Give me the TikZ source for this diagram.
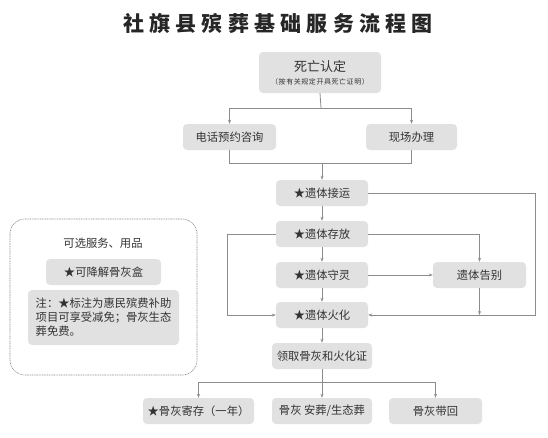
\documentclass[tikz,border=0pt]{standalone}
\usepackage{fontspec}
\setmainfont{Noto Sans CJK SC}
\usetikzlibrary{arrows.meta}
\definecolor{boxgray}{HTML}{E1E1E1}
\definecolor{linegray}{HTML}{8C8C8C}
\definecolor{textgray}{HTML}{333333}

\begin{document}
\begin{tikzpicture}[
				x=1pt, y=-1pt,
				font=\fontsize{11.3}{14}\selectfont,
				box/.style = {fill=boxgray, rounded corners=4pt, inner sep=0pt, text=textgray, minimum height=26pt},
				link/.style = {draw=linegray, line width=0.8pt},
				arr/.style = {link, -{Stealth[length=4pt, width=3pt]}}
			]
			\useasboundingbox (0,0) rectangle (548,437);
			\node[text=black!85, font=\fontsize{21}{23}\selectfont\bfseries\addfontfeatures{LetterSpace=25}] (title) at (278,23) {社旗县殡葬基础服务流程图};
			% main column
			\node[box, minimum width=122pt, minimum height=41pt, align=center] (death) at (320,72.5) {{\fontsize{13}{16}\selectfont 死亡认定}\\[-1pt]{\fontsize{7}{9}\selectfont\addfontfeatures{LetterSpace=8} （按有关规定开具死亡证明）}};
			\node[box, minimum width=93pt] (phone) at (229.5,137) {电话预约咨询};
			\node[box, minimum width=91pt] (site) at (411.5,137) {现场办理};
			\node[box, minimum width=92pt] (pickup) at (322,193) {★遗体接运};
			\node[box, minimum width=92pt] (store) at (322,234) {★遗体存放};
			\node[box, minimum width=92pt] (vigil) at (322,275) {★遗体守灵};
			\node[box, minimum width=93pt] (farewell) at (479.5,275) {遗体告别};
			\node[box, minimum width=92pt] (cremate) at (322,315) {★遗体火化};
			\node[box, minimum width=100pt] (ashes) at (322,356) {领取骨灰和火化证};
			\node[box, minimum width=111pt] (deposit) at (198.5,411) {★骨灰寄存（一年）};
			\node[box, minimum width=100pt] (bury) at (322,411) {骨灰 安葬/生态葬};
			\node[box, minimum width=93pt] (home) at (435.5,411) {骨灰带回};
			% optional services
			\draw[linegray, line width=0.6pt, dash pattern=on 1pt off 0.7pt, rounded corners=15pt] (10,219) rectangle (197,375);
			\node[text=textgray] (extras) at (103,243) {可选服务、用品};
			\node[box, minimum width=115pt] (urn) at (103.5,272) {★可降解骨灰盒};
			\node[box, minimum width=151pt, minimum height=55pt, align=left] (note) at (103.5,317.5) {注：★标注为惠民殡费补助\\项目可享受减免；骨灰生态\\葬免费。};
			% connectors
			\coordinate (split1) at (321,108);
			\coordinate (join1) at (322,163);
			\coordinate (split2) at (322,382);
			\draw[link] (death.south) -- (split1);
			\draw[arr] (split1) -| (phone.north);
			\draw[arr] (split1) -| (site.north);
			\draw[link] (phone.south) |- (join1);
			\draw[link] (site.south) |- (join1);
			\draw[arr] (join1) -- (pickup.north);
			\draw[arr] (pickup) -- (store);
			\draw[arr] (store) -- (vigil);
			\draw[arr] (vigil) -- (cremate);
			\draw[arr] (cremate) -- (ashes);
			\draw[arr] (pickup.east) -- ++(167,0) |- (cremate.east);
			\draw[arr] (store.west) -- ++(-48,0) |- (cremate.west);
			\draw[arr] (store.east) -| (farewell.north);
			\draw[arr] (vigil) -- (farewell);
			\draw[arr] (farewell.south) -- (farewell.south |- cremate.east);
			\draw[link] (ashes.south) -- (split2);
			\draw[arr] (split2) -| (deposit.north);
			\draw[arr] (split2) -- (bury.north);
			\draw[arr] (split2) -| (home.north);
		\end{tikzpicture}
\end{document}
